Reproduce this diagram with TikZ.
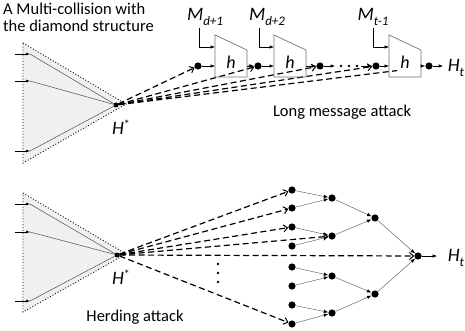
\documentclass[tikz,border=0pt]{standalone}
\usepackage{fontspec}
\setmainfont{Carlito}
\usetikzlibrary{arrows.meta}
\newcommand{\sublab}[2]{\textit{#1}\raisebox{-5pt}{\fontsize{13}{13}\selectfont\textit{#2}}}
\newcommand{\supstar}[1]{\textit{#1}\raisebox{6pt}{\fontsize{12}{12}\selectfont *}}
\begin{document}
\begin{tikzpicture}[x=1pt,y=-1pt,
  dot/.style={circle,fill=black,inner sep=0pt,minimum size=7.2pt},
  sdot/.style={circle,fill=black,inner sep=0pt,minimum size=2.8pt},
  hub/.style={circle,fill=black,inner sep=0pt,minimum size=5pt},
  tri/.style={dotted,line width=0.9pt,fill=black!6},
  feed/.style={-{Latex[length=4pt,width=3pt]},line width=0.5pt},
  spoke/.style={draw=black!70,line width=0.5pt},
  dline/.style={line width=1.2pt,dash pattern=on 6pt off 3.5pt},
  darrow/.style={dline,-{Straight Barb[length=4pt,width=7pt,line width=1pt]}},
  chain/.style={line width=0.6pt,-{Latex[length=4.5pt,width=3.5pt]}},
  boxs/.style={draw=black!55,line width=0.7pt},
  tedge/.style={draw=black!55,line width=0.55pt,-{Latex[length=4.5pt,width=3.5pt,color=black]}},
  lab/.style={font=\fontsize{16.5}{17}\selectfont},
  big/.style={font=\fontsize{19}{19}\selectfont},
  hlab/.style={font=\fontsize{18}{18}\selectfont\itshape}
]
\useasboundingbox (0,0) rectangle (465,331);

% ---------------- top: long message attack ----------------
\node[lab,anchor=north west,align=left,inner sep=0pt] (title) at (3,3)
  {A Multi-collision with\\the diamond structure};
\filldraw[tri] (23,43) -- (126,104) -- (23,163) -- cycle;
\node[hub] (hs1) at (116,105) {};
\foreach \yy/\nm in {54/ta,81/tb,151/tc}{
  \coordinate (\nm s) at (15,\yy);
  \coordinate (\nm e) at (30,\yy);
  \draw[spoke] (\nm e) -- (hs1);
  \draw[feed] (\nm s) -- (\nm e);
}
\node[big] (hst1) at (121,127) {\supstar{H}};

% chain dots
\node[dot] (d1) at (198,66) {};
\node[dot] (d2) at (258,66) {};
\node[dot] (d3) at (320,66) {};
\node[dot] (d4) at (376,66) {};
\node[dot] (d5) at (429,66) {};
\node[sdot] (s1) at (341,66) {};
\node[sdot] (s2) at (349,66) {};
\node[sdot] (s3) at (357,66) {};

% dashed lines from H*
\draw[darrow] (hs1) -- (d1);
\draw[darrow] (hs1) -- (d2);
\draw[darrow] (hs1) -- (d3);
\draw[darrow] (hs1) -- (d4);
\coordinate (dend) at (397,70.6);
\draw[dline] (hs1) -- (dend);

% compression boxes
\foreach \xl/\nm/\mx in {215/b1/199, 274/b2/259, 389/b3/373}{
  \draw[boxs] (\xl,35) -- (\xl+32,50) -- (\xl+32,77) -- (\xl,77) -- cycle;
  \coordinate (\nm in) at (\xl,66);
  \coordinate (\nm out) at (\xl+32,66);
  \coordinate (\nm m) at (\xl,47);
  \coordinate (\nm top) at (\mx,28);
  \node[hlab] (\nm h) at (\xl+16,62) {h};
  \draw[line width=0.6pt,-{Latex[length=4.5pt,width=3.5pt]}] (\nm top) |- (\nm m);
}
\node[big] (m1) at (205,17) {\sublab{M}{d+1}};
\node[big] (m2) at (267,17) {\sublab{M}{d+2}};
\node[big] (m3) at (373,17) {\sublab{M}{t-1}};

\draw[chain] (d1) -- (b1in);
\draw[chain] (b1out) -- (d2);
\draw[chain] (d2) -- (b2in);
\draw[chain] (b2out) -- (d3);
\coordinate (c1) at (335,66);
\coordinate (c2) at (361,66);
\draw[chain] (d3) -- (c1);
\draw[chain] (c2) -- (d4);
\draw[chain] (d4) -- (b3in);
\draw[chain] (b3out) -- (d5);
\coordinate (o1) at (443,66);
\draw[chain] (d5) -- (o1);
\node[big] (ht1) at (456,68) {\sublab{H}{t}};
\node[lab] (lma) at (342,112) {Long message attack};

% ---------------- bottom: herding attack ----------------
\filldraw[tri] (23,193) -- (126,254) -- (23,312) -- cycle;
\node[hub] (hs2) at (117,255) {};
\foreach \yy/\nm in {204/ua,232/ub,301/uc}{
  \coordinate (\nm s) at (15,\yy);
  \coordinate (\nm e) at (30,\yy);
  \draw[spoke] (\nm e) -- (hs2);
  \draw[feed] (\nm s) -- (\nm e);
}
\node[big] (hst2) at (121,277) {\supstar{H}};

\foreach \yy [count=\i] in {190,208,227,246,267,286,305,324}{
  \node[dot] (lf\i) at (292,\yy) {};
}
\foreach \yy [count=\i] in {198,236,276,313}{
  \node[dot] (la\i) at (332,\yy) {};
}
\node[dot] (lb1) at (375,218) {};
\node[dot] (lb2) at (375,294) {};
\node[dot] (rt) at (418,256) {};

\draw[tedge] (lf1) -- (la1);
\draw[tedge] (lf2) -- (la1);
\draw[tedge] (lf3) -- (la2);
\draw[tedge] (lf4) -- (la2);
\draw[tedge] (lf5) -- (la3);
\draw[tedge] (lf6) -- (la3);
\draw[tedge] (lf7) -- (la4);
\draw[tedge] (lf8) -- (la4);
\draw[tedge] (la1) -- (lb1);
\draw[tedge] (la2) -- (lb1);
\draw[tedge] (la3) -- (lb2);
\draw[tedge] (la4) -- (lb2);
\draw[tedge] (lb1) -- (rt);
\draw[tedge] (lb2) -- (rt);

\draw[darrow] (hs2) -- (lf1);
\draw[darrow] (hs2) -- (lf2);
\draw[darrow] (hs2) -- (lf3);
\draw[darrow] (hs2) -- (la2);
\draw[darrow] (hs2) -- (rt);
\draw[darrow] (hs2) -- (lf8);

\node[sdot] (v1) at (218,264) {};
\node[sdot] (v2) at (218,273) {};
\node[sdot] (v3) at (218,282) {};

\coordinate (o2) at (437,256);
\draw[chain] (rt) -- (o2);
\node[big] (ht2) at (456,258) {\sublab{H}{t}};
\node[lab] (her) at (135,317) {Herding attack};
\end{tikzpicture}
\end{document}
